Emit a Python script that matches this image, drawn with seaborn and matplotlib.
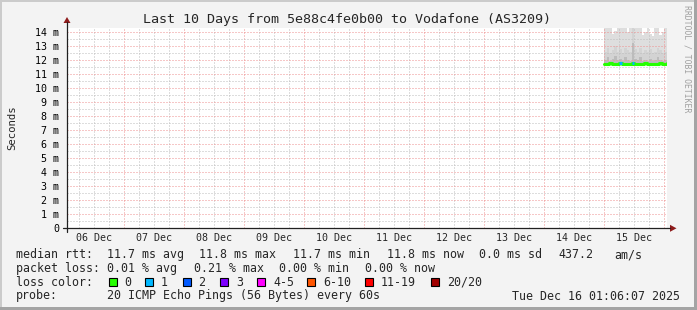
import numpy as np
import pandas as pd
import matplotlib
matplotlib.use("Agg")
import matplotlib.pyplot as plt
import seaborn as sns
from matplotlib.patches import Rectangle, Polygon
from matplotlib.lines import Line2D

# ---------------- data ----------------
title = "Last 10 Days from 5e88c4fe0b00 to Vodafone (AS3209)"
day_labels = ["06 Dec", "07 Dec", "08 Dec", "09 Dec", "10 Dec",
              "11 Dec", "12 Dec", "13 Dec", "14 Dec", "15 Dec"]
day_label_pos = [0.5, 1.5, 2.5, 3.5, 4.5, 5.5, 6.5, 7.5, 8.5, 9.5]  # days since 06 Dec 00:00
y_ticks = [0, 1, 2, 3, 4, 5, 6, 7, 8, 9, 10, 11, 12, 13, 14]
y_tick_labels = ["0", "1 m", "2 m", "3 m", "4 m", "5 m", "6 m", "7 m",
                 "8 m", "9 m", "10 m", "11 m", "12 m", "13 m", "14 m"]
x_start, x_end = 0.046, 10.046        # 06 Dec 01:06 .. 16 Dec 01:06

# hourly columns starting 15 Dec 00:00 (day 9.0)
hours = [0, 1, 2, 3, 4, 5, 6, 7, 8, 9, 10, 11, 12,
         13, 14, 15, 16, 17, 18, 19, 20, 21, 22, 23, 24, 25]
median_ms = [11.75, 11.75, 11.8, 11.75, 11.7, 11.75, 11.8, 11.75, 11.75, 11.7, 11.75, 11.8, 11.75,
             11.75, 11.7, 11.75, 11.8, 11.75, 11.75, 11.7, 11.75, 11.75, 11.8, 11.75, 11.75, 11.8]
loss_pings = [0, 0, 0, 0, 0, 0, 1, 0, 0, 0, 0, 1, 0,
              0, 0, 0, 0, 0, 0, 0, 0, 0, 0, 0, 0, 0]
smoke_low = [11.65, 11.65, 11.7, 11.65, 11.6, 11.65, 11.7, 11.65, 11.65, 11.6, 11.65, 11.7, 11.65,
             11.65, 11.6, 11.65, 11.7, 11.65, 11.65, 11.6, 11.65, 11.65, 11.7, 11.65, 11.65, 11.7]
smoke_dark = [12.0, 12.2, 11.95, 12.1, 12.3, 12.0, 12.1, 11.95, 12.2, 12.0, 11.95, 13.2, 12.1,
              12.0, 12.2, 11.95, 12.0, 11.95, 12.1, 11.95, 12.0, 12.2, 12.0, 11.95, 12.0, 12.1]
smoke_mid = [12.6, 12.9, 12.5, 12.7, 13.0, 12.6, 12.8, 12.5, 12.9, 12.7, 12.6, 14.3, 12.8,
             12.6, 12.9, 12.5, 12.7, 12.6, 12.8, 12.5, 12.6, 12.9, 12.7, 12.5, 12.6, 12.8]
smoke_top = [14.5, 14.5, 14.4, 13.9, 14.1, 14.5, 14.5, 14.5, 14.4, 14.0, 14.5, 14.5, 14.5,
             14.5, 14.4, 13.8, 14.0, 14.5, 13.9, 13.7, 14.5, 14.4, 13.8, 14.0, 14.5, 14.5]

loss_levels = ["0", "1", "2", "3", "4-5", "6-10", "11-19", "20/20"]
loss_colors = ["#26ff00", "#00b8ff", "#0059ff", "#7e00ff", "#ff00ff", "#ff5500", "#ff0000", "#a10000"]

rtt_stats = ["11.7 ms avg", "11.8 ms max", "11.7 ms min", "11.8 ms now", "0.0 ms sd", "437.2", "am/s"]
loss_stats = ["0.01 % avg", "0.21 % max", "0.00 % min", "0.00 % now"]
probe_text = "20 ICMP Echo Pings (56 Bytes) every 60s"
stamp_text = "Tue Dec 16 01:06:07 2025"

# ---------------- style ----------------
sns.set_style("white")
plt.rcParams["font.family"] = ["DejaVu Sans Mono", "DejaVu Sans"]

W, H = 697, 310
fig = plt.figure(figsize=(W / 100, H / 100), dpi=100)
fig.patch.set_facecolor("#F3F3F3")

def fx(x):
    return x / W

def fy(y):
    return 1 - y / H

# frame shading
fig.add_artist(Rectangle((0, fy(2)), 1, 2 / H, transform=fig.transFigure, color="#CBCBCB", lw=0))
fig.add_artist(Rectangle((0, 0), 2 / W, 1, transform=fig.transFigure, color="#CBCBCB", lw=0))
fig.add_artist(Rectangle((0, 0), 1, 3 / H, transform=fig.transFigure, color="#A4A4A4", lw=0))
fig.add_artist(Rectangle((1 - 3 / W, 0), 3 / W, 1, transform=fig.transFigure, color="#A4A4A4", lw=0))

ax_l, ax_r, ax_t, ax_b = 67, 667, 28, 228.3
ax = fig.add_axes([fx(ax_l), fy(ax_b), (ax_r - ax_l) / W, (ax_b - ax_t) / H])
ax.set_facecolor("white")
for s in ax.spines.values():
    s.set_visible(False)

# ---------------- smoke ----------------
edges = [9 + h / 24 for h in hours] + [x_end]
def ext(a):
    return list(a) + [a[-1]]

ax.fill_between(edges, ext(smoke_low), ext(smoke_top), step="post", color="#dedede", lw=0, zorder=1)
ax.fill_between(edges, ext(smoke_low), ext(smoke_mid), step="post", color="#d3d3d3", lw=0, zorder=1.1)
ax.fill_between(edges, ext(smoke_low), ext(smoke_dark), step="post", color="#bcbcbc", lw=0, zorder=1.2)

# ---------------- median ----------------
df = pd.DataFrame({"t": edges, "median": ext(median_ms)})
sns.lineplot(data=df, x="t", y="median", ax=ax, color=loss_colors[0], lw=2.2,
             drawstyle="steps-post", estimator=None, sort=False, zorder=3)
for i, h in enumerate(hours):
    if loss_pings[i] > 0:
        ax.hlines(median_ms[i], edges[i], edges[i + 1], color=loss_colors[loss_pings[i]],
                  lw=2.2, zorder=3.1)
ax.set_xlabel("")
ax.set_ylabel("")

# ---------------- grid ----------------
ax.set_yticks(y_ticks)
ax.set_yticklabels(y_tick_labels)
ax.set_yticks([v + 0.5 for v in y_ticks[:-1]], minor=True)
ax.set_xticks(list(range(1, 11)))
ax.set_xticks([d + q for d in range(0, 11) for q in (0.25, 0.5, 0.75)], minor=True)
ax.set_xlim(x_start, x_end)
ax.set_ylim(0, 14.3)
ax.set_axisbelow(False)
ax.grid(which="minor", color="#bdbdbd", lw=0.72, ls=(0, (1, 2)), zorder=2)
ax.grid(which="major", color="#ee9090", lw=0.72, ls=(0, (1, 2)), zorder=2.1)
ax.tick_params(axis="x", which="both", length=0, labelbottom=False)
ax.tick_params(axis="y", which="minor", length=0)
ax.tick_params(axis="y", which="major", length=2.5, width=0.72, color="#ee9090",
               labelsize=7.2, pad=3, labelcolor="black")

for pos, lab in zip(day_label_pos, day_labels):
    ax.text(pos, -9.5 / (ax_b - ax_t), lab, transform=ax.get_xaxis_transform(),
            ha="center", va="center", fontsize=7.2)

# axis lines + arrows
fig.add_artist(Line2D([fx(63), fx(670)], [fy(ax_b), fy(ax_b)], transform=fig.transFigure,
                      color="#202020", lw=0.9))
fig.add_artist(Line2D([fx(ax_l), fx(ax_l)], [fy(232), fy(22)], transform=fig.transFigure,
                      color="#202020", lw=0.9))
fig.add_artist(Polygon([(fx(63.5), fy(23)), (fx(70.5), fy(23)), (fx(67), fy(17))],
                       closed=True, transform=fig.transFigure, color="#8e1b1b", lw=0))
fig.add_artist(Polygon([(fx(670), fy(224.8)), (fx(670), fy(231.8)), (fx(676.5), fy(ax_b))],
                       closed=True, transform=fig.transFigure, color="#8e1b1b", lw=0))

# ---------------- texts ----------------
fig.text(fx(347), fy(19), title, ha="center", va="center", fontsize=9.6)
fig.text(fx(12), fy(127.5), "Seconds", ha="center", va="center", rotation=90, fontsize=7.7)
fig.text(fx(687.5), fy(59), "RRDTOOL / TOBI OETIKER", ha="center", va="center",
         rotation=270, fontsize=5.9, color="#a0a0a0")

fs = 8.35
row_y = [254.5, 268.2, 282, 296]
fig.text(fx(16), fy(row_y[0]), "median rtt:", ha="left", va="center", fontsize=fs)
for xp, s in zip([107, 199, 293, 387, 479, 558, 614], rtt_stats):
    fig.text(fx(xp), fy(row_y[0]), s, ha="left", va="center", fontsize=fs)
fig.text(fx(16), fy(row_y[1]), "packet loss:", ha="left", va="center", fontsize=fs)
for xp, s in zip([107, 194, 279, 365], loss_stats):
    fig.text(fx(xp), fy(row_y[1]), s, ha="left", va="center", fontsize=fs)
fig.text(fx(16), fy(row_y[2]), "loss color:", ha="left", va="center", fontsize=fs)
for xp, lab, col in zip([108.5, 145, 182.5, 220, 257, 307, 365, 431], loss_levels, loss_colors):
    fig.add_artist(Rectangle((fx(xp), fy(row_y[2] + 4)), 8 / W, 8 / H, transform=fig.transFigure,
                             facecolor=col, edgecolor="black", lw=0.8))
    fig.text(fx(xp + 16), fy(row_y[2]), lab, ha="left", va="center", fontsize=fs)
fig.text(fx(16), fy(row_y[3]), "probe:", ha="left", va="center", fontsize=fs)
fig.text(fx(107), fy(row_y[3]), probe_text, ha="left", va="center", fontsize=fs)
fig.text(fx(680), fy(row_y[3]), stamp_text, ha="right", va="center", fontsize=fs)

fig.savefig("out.png", dpi=100, facecolor=fig.get_facecolor())
